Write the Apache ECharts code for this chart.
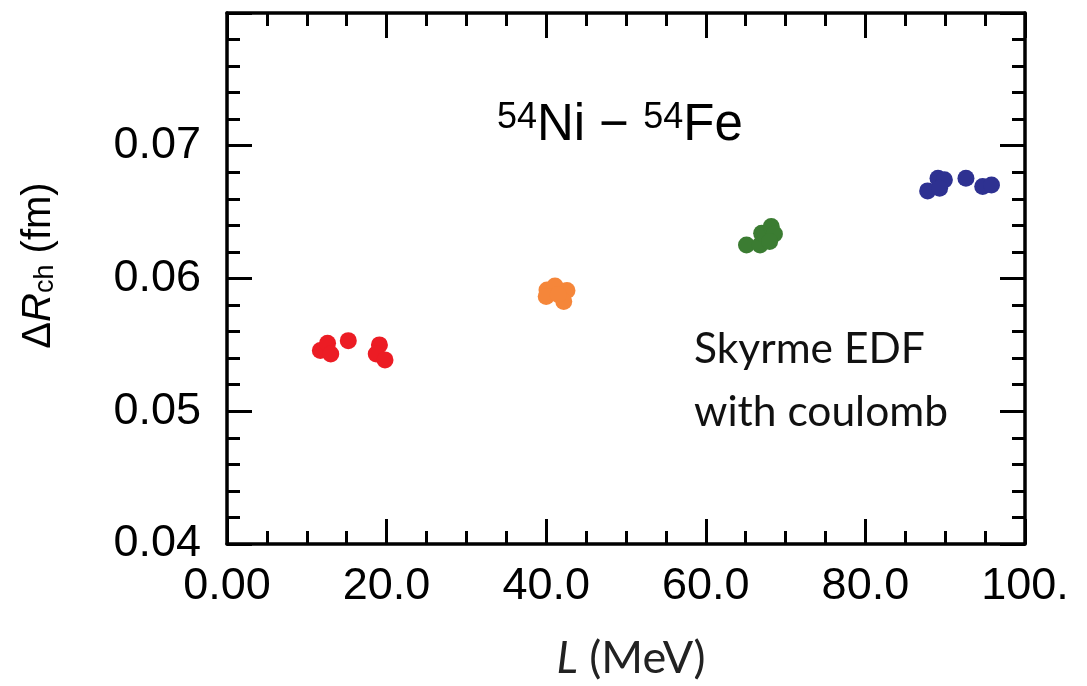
<!DOCTYPE html>
<html>
<head>
<meta charset="utf-8">
<script src="https://cdn.jsdelivr.net/npm/echarts@6/dist/echarts.min.js"></script>
<style>
  html, body { margin: 0; padding: 0; background: #fff; }
  #chart { width: 1087px; height: 686px; }
</style>
</head>
<body>
<div id="chart"></div>
<script>
// L (MeV) and delta R_ch (fm) for each group of Skyrme forces
const redL = [11.7, 12.6, 13.0, 15.2, 19.1, 18.7, 19.8];
const redR = [0.05457, 0.05512, 0.05432, 0.05532, 0.0550, 0.05432, 0.05387];

const orangeL = [40.1, 41.1, 42.6, 42.2, 40.0, 41.5];
const orangeR = [0.05914, 0.05944, 0.05909, 0.05826, 0.05864, 0.05880];

const greenL = [65.1, 66.8, 67.0, 68.2, 68.6, 68.0];
const greenR = [0.06253, 0.06253, 0.06341, 0.06391, 0.06336, 0.06278];

const blueL = [87.8, 89.1, 89.9, 89.3, 92.6, 94.7, 95.8];
const blueR = [0.06660, 0.06756, 0.06743, 0.06680, 0.06756, 0.06693, 0.06705];

const xTicks = [0, 20, 40, 60, 80, 100];
const xTickLabels = ['0.00', '20.0', '40.0', '60.0', '80.0', '100.'];

const colours = ['#ec1c24', '#f5863a', '#3b7c32', '#2e3191'];

const pairUp = (xs, ys) => xs.map((x, i) => [x, ys[i]]);

const chart = echarts.init(document.getElementById('chart'));

// onZero off, otherwise the y axes get pulled onto x = 0
const axisLine = { onZero: false, lineStyle: { color: '#000', width: 3.5 } };
const tickLine = { color: '#000', width: 3 };
const labelFont = { color: '#000', fontSize: 45, fontFamily: 'Liberation Sans' };
// ticks point into the plot on all four sides
const majorTick = { inside: true, length: 25, lineStyle: tickLine };
const minorTick = (n) => ({ show: true, splitNumber: n, length: 13, lineStyle: tickLine });

const option = {
    animation: false,
    grid: { left: 227, right: 62, top: 13, bottom: 142 },
    xAxis: [{
        type: 'value',
        min: 0,
        max: 100,
        interval: 20,
        position: 'bottom',
        axisLine: axisLine,
        axisTick: majorTick,
        minorTick: minorTick(4),
        splitLine: { show: false },
        axisLabel: Object.assign({
            margin: 20,
            formatter: (v) => xTickLabels[xTicks.indexOf(v)] || ''
        }, labelFont),
        name: '{i|L} (MeV)',
        nameLocation: 'middle',
        nameGap: 92,
        nameTextStyle: {
            color: '#222',
            fontSize: 45,
            fontFamily: 'Lato',
            padding: [0, 0, 0, 10],
            rich: { i: { fontStyle: 'italic', fontSize: 45, fontFamily: 'Lato', color: '#222' } }
        }
    }, {
        type: 'value',
        min: 0,
        max: 100,
        interval: 20,
        position: 'top',
        axisLine: axisLine,
        axisTick: majorTick,
        minorTick: minorTick(4),
        splitLine: { show: false },
        axisLabel: { show: false }
    }],
    yAxis: [{
        type: 'value',
        min: 0.04,
        max: 0.08,
        interval: 0.01,
        position: 'left',
        axisLine: axisLine,
        axisTick: majorTick,
        minorTick: minorTick(5),
        splitLine: { show: false },
        axisLabel: Object.assign({
            margin: 26,
            formatter: (v) => v > 0.075 ? '' : v.toFixed(2)
        }, labelFont),
        name: '\u0394{i|R}{sub|ch} (fm)',
        nameLocation: 'middle',
        nameGap: 168,
        nameRotate: 90,
        nameTextStyle: {
            color: '#000',
            fontSize: 40,
            fontFamily: 'Liberation Sans',
            padding: [0, 0, 0, 26],
            rich: {
                i: { fontStyle: 'italic', fontSize: 40, fontFamily: 'Liberation Sans', color: '#000' },
                sub: { fontSize: 27, fontFamily: 'Liberation Sans', color: '#000', verticalAlign: 'bottom', padding: [14, 0, 0, 0] }
            }
        }
    }, {
        type: 'value',
        min: 0.04,
        max: 0.08,
        interval: 0.01,
        position: 'right',
        axisLine: axisLine,
        axisTick: majorTick,
        minorTick: minorTick(5),
        splitLine: { show: false },
        axisLabel: { show: false }
    }],
    series: [
        { type: 'scatter', data: pairUp(redL, redR), symbolSize: 17, itemStyle: { color: colours[0], opacity: 1 } },
        { type: 'scatter', data: pairUp(orangeL, orangeR), symbolSize: 17, itemStyle: { color: colours[1], opacity: 1 } },
        { type: 'scatter', data: pairUp(greenL, greenR), symbolSize: 17, itemStyle: { color: colours[2], opacity: 1 } },
        { type: 'scatter', data: pairUp(blueL, blueR), symbolSize: 17, itemStyle: { color: colours[3], opacity: 1 } }
    ],
    graphic: [{
        type: 'text',
        left: 497,
        top: 100,
        style: {
            text: '{sup|54}Ni \u2212 {sup|54}Fe',
            fill: '#000',
            font: '51px "Liberation Sans"',
            rich: {
                sup: { fontSize: 36, fontFamily: 'Liberation Sans', fill: '#000', verticalAlign: 'top', padding: [0, 0, 16, 0] }
            }
        }
    }, {
        type: 'text',
        left: 694,
        top: 318,
        style: {
            text: 'Skyrme EDF\nwith coulomb',
            fill: '#111',
            font: '42.5px Lato',
            lineHeight: 63
        }
    }]
};

chart.setOption(option);
window.addEventListener('resize', () => { chart.resize(); });
</script>
</body>
</html>
